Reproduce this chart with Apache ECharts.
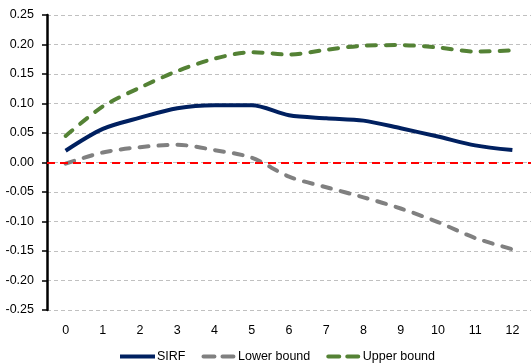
<!DOCTYPE html>
<html><head><meta charset="utf-8">
<script src="https://cdn.jsdelivr.net/npm/echarts@6/dist/echarts.min.js"></script>
<style>html,body{margin:0;padding:0;background:#fff}#c{width:531px;height:364px}</style>
</head><body><div id="c"></div>
<script>
var categories = ['0','1','2','3','4','5','6','7','8','9','10','11','12'];
var sirf = [0.020, 0.057, 0.076, 0.092, 0.097, 0.097, 0.080, 0.075, 0.071, 0.058, 0.044, 0.029, 0.021];
var lowerBound = [-0.002, 0.017, 0.026, 0.030, 0.021, 0.008, -0.024, -0.042, -0.059, -0.078, -0.101, -0.128, -0.147];
var upperBound = [0.045, 0.095, 0.127, 0.155, 0.176, 0.187, 0.183, 0.191, 0.198, 0.199, 0.195, 0.188, 0.190];
var yTicks = {min: -0.25, max: 0.25, interval: 0.05};

var chart = echarts.init(document.getElementById('c'), null, {renderer: 'canvas'});
var font = 'Liberation Sans, Arial, sans-serif';
var solidIcon = 'path://M0,0h36v4h-36z';
var dashIcon = 'path://M2,0h11a2,2 0 0 1 0,4h-11a2,2 0 0 1 0,-4z M21,0h11a2,2 0 0 1 0,4h-11a2,2 0 0 1 0,-4z';
chart.setOption({
  animation: false,
  textStyle: {fontFamily: font},
  grid: {left: 47, top: 15, width: 488, height: 295, containLabel: false},
  xAxis: {
    type: 'category', data: categories, boundaryGap: true,
    axisLine: {show: false}, axisTick: {show: false},
    axisLabel: {color: '#000', fontSize: 12.5, fontFamily: font, margin: 14},
    splitLine: {show: false}
  },
  yAxis: {
    type: 'value', min: yTicks.min, max: yTicks.max, interval: yTicks.interval,
    axisLine: {show: true, lineStyle: {color: '#000', width: 2.5}},
    axisTick: {show: true, length: 5, lineStyle: {color: '#000', width: 1.5}},
    axisLabel: {color: '#000', fontSize: 12.5, fontFamily: font, margin: 13,
      formatter: function (v) { return v.toFixed(2); }},
    splitLine: {show: true, lineStyle: {color: '#c0c0c0', type: [4, 3], width: 1}}
  },
  legend: {
    top: 345, left: 115, itemWidth: 35, itemHeight: 4, itemGap: 16,
    textStyle: {color: '#000', fontSize: 12.5, fontFamily: font, padding: [0, 0, 0, -3]},
    data: [
      {name: 'SIRF', icon: solidIcon},
      {name: 'Lower bound', icon: dashIcon},
      {name: 'Upper bound', icon: dashIcon}
    ]
  },
  series: [
    {name: 'SIRF', type: 'line', data: sirf, showSymbol: false, symbol: 'none', smooth: 0.3,
      lineStyle: {color: '#002060', width: 4}, itemStyle: {color: '#002060'}, z: 5,
      markLine: {silent: true, symbol: 'none', label: {show: false},
        lineStyle: {color: '#ff0000', type: [8, 5], width: 2}, data: [{yAxis: 0}]}},
    {name: 'Lower bound', type: 'line', data: lowerBound, showSymbol: false, symbol: 'none', smooth: 0.3,
      lineStyle: {color: '#808080', width: 4, type: [9, 10], cap: 'round'}, itemStyle: {color: '#808080'}},
    {name: 'Upper bound', type: 'line', data: upperBound, showSymbol: false, symbol: 'none', smooth: 0.3,
      lineStyle: {color: '#548235', width: 4, type: [9, 10], cap: 'round'}, itemStyle: {color: '#548235'}}
  ]
});
</script></body></html>
